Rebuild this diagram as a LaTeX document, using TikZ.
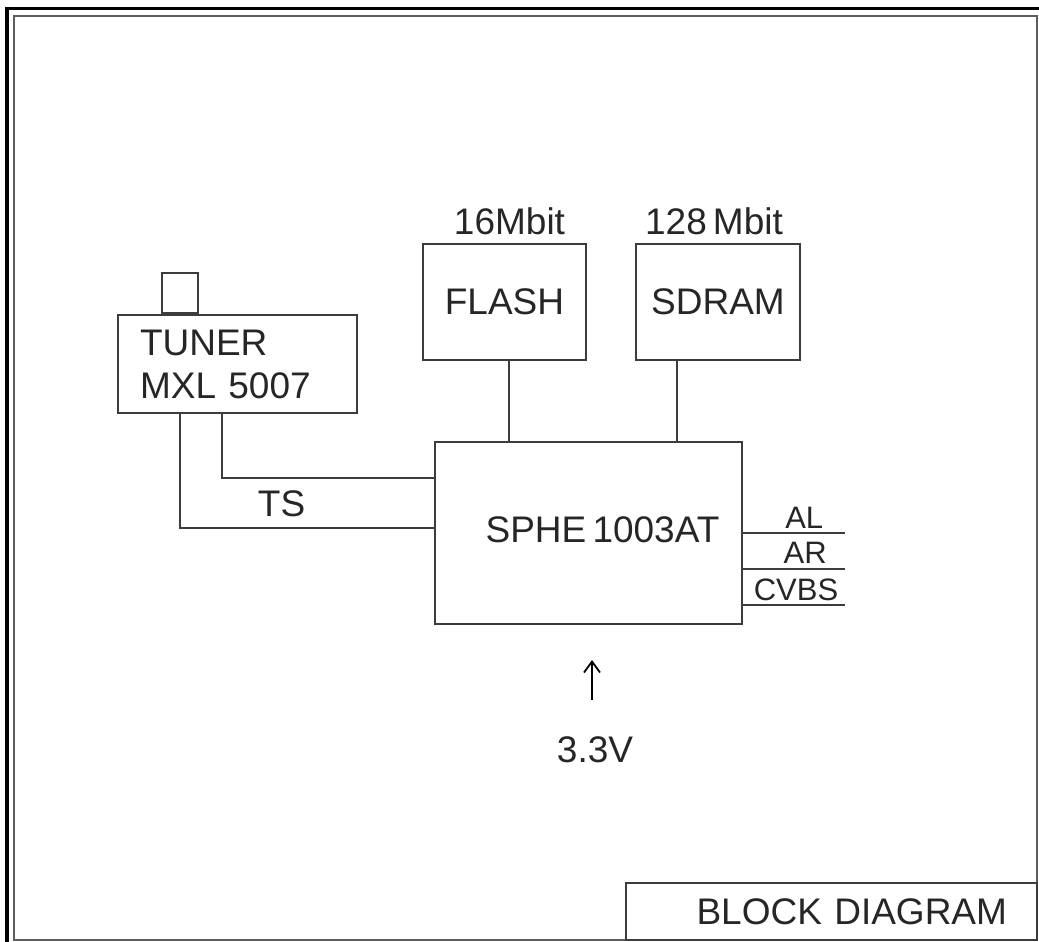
\documentclass[tikz,border=0pt]{standalone}
\usepackage{fontspec}
\setmainfont{Liberation Sans}
\usetikzlibrary{arrows.meta,positioning}
\definecolor{ink}{HTML}{3C3C3C}
\definecolor{rim}{HTML}{5E5E5E}
\tikzset{
  blk/.style   ={draw=ink,line width=2pt,inner sep=0pt,align=center},
  wire/.style  ={draw=ink,line width=2pt},
  pwr/.style   ={-{Straight Barb[length=11pt,width=16pt,line width=1.8pt]},line width=1.8pt,draw=black},
  rimline/.style={draw=rim,line width=2.5pt},
  outlbl/.style={font=\fontsize{31}{36}\selectfont}
}

\begin{document}
\begin{tikzpicture}[x=1pt,y=-1pt,
    every node/.style={font=\fontsize{37}{43}\selectfont,inner sep=0pt,text=black!85}]
    \useasboundingbox (0,0) rectangle (1039,942);
    % sheet frame
    \draw[line width=3.5pt] (7,942) -- (7,8.5) -- (1039,8.5);
    \draw[rimline] (14,16) rectangle (1037,940);
    % blocks
    \node[blk,minimum width=239pt,minimum height=98pt,text width=195pt,
          inner xsep=22pt,align=left] (tuner) at (237.5,364) {TUNER\\MXL 5007};
    \node[blk,minimum width=36pt,minimum height=40pt,anchor=south] (antenna)
          at ([xshift=63pt]tuner.north west) {};
    \node[blk,minimum width=163pt,minimum height=116pt] (flash) at (504.5,302) {FLASH};
    \node[blk,minimum width=164pt,minimum height=116pt] (sdram) at (718,302) {SDRAM};
    \node[above=8pt of flash,xshift=5pt] (flashsize) {16Mbit};
    \node[above=8pt of sdram,xshift=-4pt] (sdramsize) {128\,Mbit};
    \node[blk,minimum width=307pt,minimum height=182pt,
          label={[xshift=14pt,yshift=3pt]center:SPHE\,1003AT}] (sphe) at (588.5,533) {};
    % buses
    \draw[wire] ([xshift=4.5pt]flash.south) -- ([xshift=4.5pt]flash.south |- sphe.north);
    \draw[wire] ([xshift=-41pt]sdram.south) -- ([xshift=-41pt]sdram.south |- sphe.north);
    \draw[wire] ([xshift=105pt]tuner.south west) |- ([yshift=55pt]sphe.west);
    \draw[wire] ([xshift=63pt]tuner.south west) |- ([yshift=5pt]sphe.west)
          node[pos=0.7,above=10pt] (tslbl) {TS};
    % outputs
    \coordinate (alend) at (845,533);
    \coordinate (arend) at (845,569);
    \coordinate (cvbsend) at (845,605);
    \draw[wire] (sphe.east |- alend) -- (alend) node[pos=0.6,above=3.5pt,outlbl] {AL};
    \draw[wire] (sphe.east |- arend) -- (arend) node[pos=0.61,above=4.5pt,outlbl] {AR};
    \draw[wire] (sphe.east |- cvbsend) -- (cvbsend) node[pos=0.52,above=3.5pt,outlbl] {CVBS};
    % supply
    \coordinate (vtail) at (592,700);
    \coordinate (vtip) at (592,660);
    \draw[pwr] (vtail) -- (vtip);
    \node (vin) at (595,750) {3.3V};
    % title block
    \node[blk,minimum width=411pt,minimum height=57pt,text width=351pt,
          inner xsep=30pt,align=right] (title) at (831.5,911.5) {BLOCK\,\,DIAGRAM};
\end{tikzpicture}
\end{document}
